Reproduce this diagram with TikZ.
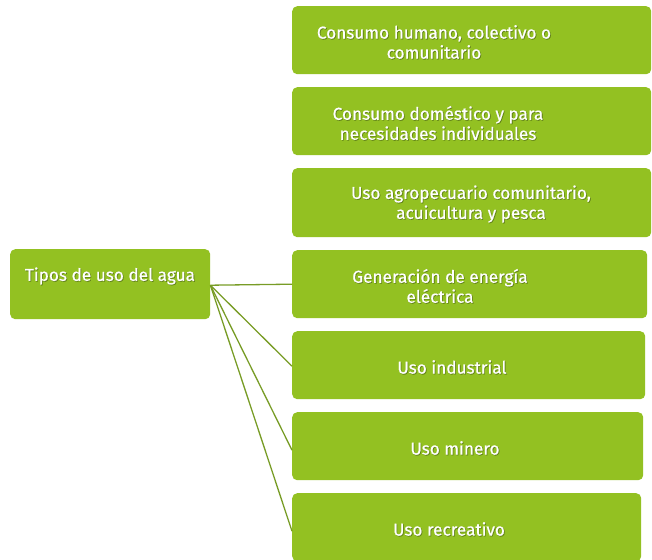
\documentclass[tikz,border=0pt]{standalone}
\usepackage{fontspec}
\setmainfont{Fira Sans}[FakeBold=0.7]
\definecolor{boxgreen}{RGB}{147,193,34}
\definecolor{linegreen}{RGB}{120,156,38}
\definecolor{shadowc}{RGB}{60,80,20}
\newcommand{\shtext}[3]{%
  \node[lbl, text=shadowc, opacity=0.5] at ([xshift=0.8pt,yshift=-0.8pt]#1) {#3};
  \node[lbl] (#2) at (#1) {#3};}
\begin{document}
\begin{tikzpicture}[x=1pt,y=-1pt,
  box/.style={fill=boxgreen, draw=none, rounded corners=5pt, inner sep=0pt, anchor=north west},
  lbl/.style={text=white, font=\fontsize{17.2}{20}\selectfont, align=center, inner sep=0pt},
  conn/.style={draw=linegreen, line width=1.3pt}]
\useasboundingbox (0,0) rectangle (652,559);
% left box
\node[box, minimum width=200pt, minimum height=70pt] (L) at (10,249) {};
% right boxes
\node[box, minimum width=359pt, minimum height=68pt] (b1) at (292,6) {};
\node[box, minimum width=359pt, minimum height=68pt] (b2) at (292,87) {};
\node[box, minimum width=359pt, minimum height=69pt] (b3) at (292,168) {};
\node[box, minimum width=355pt, minimum height=68pt] (b4) at (292,250) {};
\node[box, minimum width=353pt, minimum height=68pt] (b5) at (292,331) {};
\node[box, minimum width=351pt, minimum height=68pt] (b6) at (292,412) {};
\node[box, minimum width=349pt, minimum height=68pt] (b7) at (292,493) {};
\shtext{110,276}{tL}{Tipos de uso del agua}
\shtext{434,42}{t1}{Consumo humano, colectivo o\\comunitario}
\shtext{438,123}{t2}{Consumo doméstico y para\\necesidades individuales}
\shtext{471,204}{t3}{Uso agropecuario comunitario,\\acuicultura y pesca}
\shtext{440,286}{t4}{Generación de energía\\eléctrica}
\shtext{452,367}{t5}{Uso industrial}
\shtext{455,448}{t6}{Uso minero}
\shtext{449,529}{t7}{Uso recreativo}
% connectors
\coordinate (hub) at ([yshift=-1pt]L.east);
\draw[conn] (hub) -- (b4.west);
\draw[conn] (hub) -- ([yshift=-1pt]b5.west);
\draw[conn] (hub) -- ([yshift=-4pt]b6.west);
\draw[conn] (hub) -- ([yshift=-4pt]b7.west);
\end{tikzpicture}
\end{document}
